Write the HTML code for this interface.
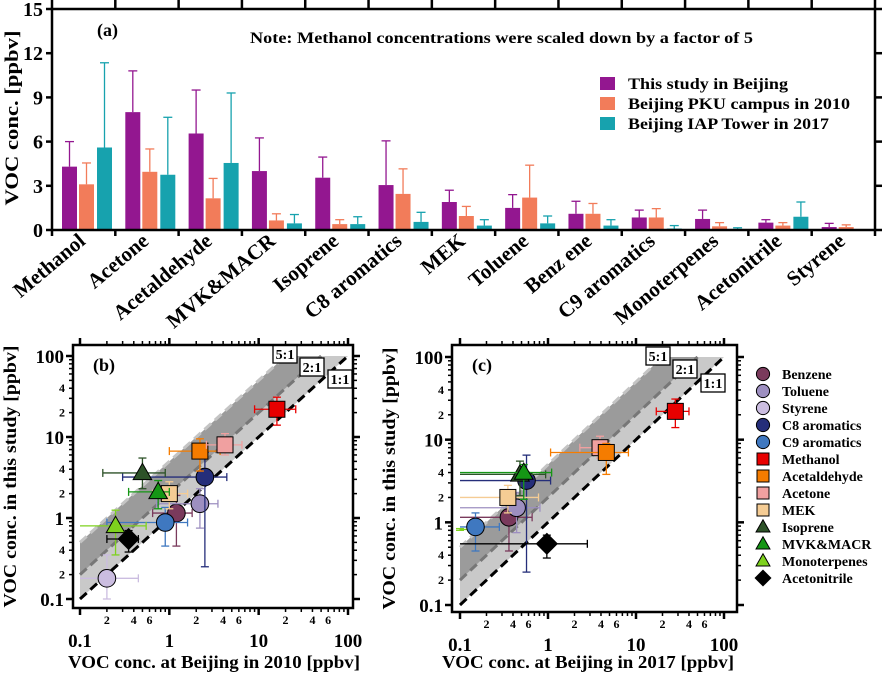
<!DOCTYPE html>
<html><head><meta charset="utf-8"><style>
html,body{margin:0;padding:0;background:#fff}
svg{display:block;font-family:"Liberation Serif",serif;font-weight:bold}
</style></head><body>
<svg id="fig" width="884" height="674" viewBox="0 0 884 674" xmlns="http://www.w3.org/2000/svg">
<g id="pa"></g>
<g id="pb"></g>
<g id="pc"></g>
<g id="leg"></g>
</svg>
<script>
const categories=["Methanol","Acetone","Acetaldehyde","MVK&MACR","Isoprene","C8 aromatics","MEK","Toluene","Benz ene","C9 aromatics","Monoterpenes","Acetonitrile","Styrene"];
const thisStudy=[4.3,8.0,6.55,4.0,3.55,3.05,1.9,1.5,1.1,0.85,0.75,0.5,0.2];
const thisStudyErr=[6.0,10.8,9.5,6.25,4.95,6.05,2.7,2.4,1.95,1.35,1.35,0.7,0.45];
const pku2010=[3.1,3.95,2.15,0.65,0.4,2.45,0.95,2.2,1.1,0.85,0.25,0.3,0.2];
const pku2010Err=[4.55,5.5,3.5,1.1,0.7,4.15,1.6,4.4,1.8,1.45,0.5,0.5,0.35];
const iap2017=[5.6,3.75,4.55,0.45,0.4,0.55,0.3,0.45,0.3,0.1,0.05,0.9,0];
const iap2017Err=[11.35,7.65,9.3,1.05,0.9,1.2,0.7,0.95,0.7,0.3,0.15,1.9,0];
const yTicksA=[0,3,6,9,12,15];

const species=["Benzene","Toluene","Styrene","C8 aromatics","C9 aromatics","Methanol","Acetaldehyde","Acetone","MEK","Isoprene","MVK&MACR","Monoterpenes","Acetonitrile"];
const studyY=[1.15,1.5,0.18,3.2,0.88,22,6.7,8,2.0,3.6,2.1,0.8,0.55];
const studyYlo=[0.45,0.75,0.1,0.25,0.45,14,3.8,6,1.3,2.3,1.3,0.35,0.38];
const studyYhi=[1.9,2.3,0.35,6.5,1.35,31,9.5,11,2.8,5.5,2.9,1.25,0.7];
const x2010=[1.2,2.2,0.2,2.5,0.9,16,2.2,4.2,1.0,0.5,0.75,0.25,0.35];
const x2010lo=[0.65,0.72,0.1,0.3,0.2,9,1.0,2.6,0.65,0.18,0.35,0.1,0.2];
const x2010hi=[1.8,3.5,0.45,4.4,1.6,26,3.7,6.5,1.6,0.9,1.0,0.55,0.45];
const c_species=["Monoterpenes","Benzene","Toluene","C8 aromatics","C9 aromatics","Methanol","Acetone","Acetaldehyde","MEK","Isoprene","MVK&MACR","Acetonitrile"];
const c_y=[0.82,1.15,1.5,3.2,0.88,22,8,7,2.0,3.8,4.0,0.55];
const c_ylo=[0.8,0.45,0.75,0.25,0.45,14,6,3.8,1.3,2.1,1.9,0.37];
const c_yhi=[0.84,1.85,2.3,6.5,1.3,31,11,9,2.8,5.5,5.0,0.7];
const x2017=[0.06,0.36,0.44,0.57,0.15,28,3.9,4.6,0.35,0.48,0.53,0.97];
const x2017lo=[0.1,0.1,0.1,0.1,0.1,17,2.3,1.07,0.1,0.1,0.1,0.1];
const x2017hi=[0.15,0.66,0.81,1.07,0.28,40,5.3,8.2,0.78,0.94,1.1,2.8];

const NS="http://www.w3.org/2000/svg";
function mk(tag,attrs,parent,text){const e=document.createElementNS(NS,tag);for(const k in attrs)e.setAttribute(k,attrs[k]);if(text!==undefined)e.textContent=text;parent.appendChild(e);return e;}

// ---------- Panel a ----------
const pa=document.getElementById('pa');
const aL=52,aR=875,aT=9,aB=230,cw=(aR-aL)/13;
const ya=v=>aB-(v/15)*(aB-aT);
const seriesVals=[thisStudy,pku2010,iap2017],seriesErr=[thisStudyErr,pku2010Err,iap2017Err];
const seriesCol=["#931790","#f27c5a","#17a2ae"],seriesOff=[10,27,45],seriesName=["this-study","pku-2010","iap-2017"];
for(let i=0;i<13;i++){
  for(let s=0;s<3;s++){
    const v=seriesVals[s][i],e=seriesErr[s][i],x=aL+i*cw+seriesOff[s];
    if(v<=0)continue;
    const er=mk('line',{x1:x+7.5,x2:x+7.5,y1:ya(v),y2:ya(e),stroke:seriesCol[s],'stroke-width':1.3},pa);
    
    
    const cap=mk('line',{x1:x+3,x2:x+12,y1:ya(e),y2:ya(e),stroke:seriesCol[s],'stroke-width':1.3},pa);
    
    
    const r=mk('rect',{x:x,y:ya(v),width:15,height:aB-ya(v),fill:seriesCol[s]},pa);
    
    
  }
  const cx=aL+i*cw+cw/2;
  const t=mk('text',{x:cx+3,y:243,'text-anchor':'end','font-size':21,transform:`rotate(-40 ${cx+3} 243)`},pa,categories[i]);
  
  
}
mk('rect',{x:aL,y:aT,width:aR-aL,height:aB-aT,fill:'none',stroke:'#000','stroke-width':2.5},pa);
for(let i=0;i<=13;i++){const x=aL+i*cw;mk('line',{x1:x,x2:x,y1:0,y2:aT,stroke:'#000','stroke-width':2.5},pa);mk('line',{x1:x,x2:x,y1:aB,y2:aB+6,stroke:'#000','stroke-width':2.5},pa);}
yTicksA.forEach(v=>{mk('line',{x1:aL-6,x2:aL,y1:ya(v),y2:ya(v),stroke:'#000','stroke-width':2.5},pa);mk('line',{x1:aR,x2:aR+7,y1:ya(v),y2:ya(v),stroke:'#000','stroke-width':2.5},pa);
 const t=mk('text',{x:43,y:ya(v)+7,'text-anchor':'end','font-size':20},pa,String(v));});
mk('text',{x:18,y:118,'text-anchor':'middle','font-size':19,textLength:175,lengthAdjust:'spacingAndGlyphs',transform:'rotate(-90 18 118)',},pa,'VOC conc. [ppbv]');
mk('text',{x:97,y:36,'font-size':18,},pa,'(a)');
mk('text',{x:250,y:43,'font-size':16,textLength:503,lengthAdjust:'spacingAndGlyphs',},pa,'Note: Methanol concentrations were scaled down by a factor of 5');
const legLen=[160,222,201];
["This study in Beijing","Beijing PKU campus in 2010","Beijing IAP Tower in 2017"].forEach((n,i)=>{
  mk('rect',{x:600,y:77+i*20,width:15,height:13,fill:seriesCol[i],},pa);
  mk('text',{x:628,y:89+i*20,'font-size':16,textLength:legLen[i],lengthAdjust:'spacingAndGlyphs',},pa,n);
});

// ---------- Scatter panels ----------
const styles={
 "Benzene":["circle","#7a3a5c"],"Toluene":["circle","#9d8fc0"],"Styrene":["circle","#cbbde0"],"C8 aromatics":["circle","#252e7a"],
 "C9 aromatics":["circle","#3f78c0"],"Methanol":["square","#e80000"],"Acetaldehyde":["square","#f57c00"],"Acetone":["square","#f0a0a0"],
 "MEK":["square","#f5cc94"],"Isoprene":["tri","#2d5228"],"MVK&MACR":["tri","#159615"],"Monoterpenes":["tri","#7ed21e"],"Acetonitrile":["diamond","#000000"]};
function marker(g,type,col,x,y,s){
  let e;
  if(type==="circle")e=mk('circle',{cx:x,cy:y,r:s*0.55,fill:col,stroke:'#000','stroke-width':1},g);
  else if(type==="square")e=mk('rect',{x:x-s/2,y:y-s/2,width:s,height:s,fill:col,stroke:'#000','stroke-width':1},g);
  else if(type==="tri")e=mk('polygon',{points:`${x},${y-s*0.6} ${x-s*0.58},${y+s*0.42} ${x+s*0.58},${y+s*0.42}`,fill:col,stroke:'#000','stroke-width':1},g);
  else e=mk('polygon',{points:`${x},${y-s*0.65} ${x+s*0.65},${y} ${x},${y+s*0.65} ${x-s*0.65},${y}`,fill:col,stroke:'#000','stroke-width':1},g);
  return e;
}
function scatter(g,cfg,names,xs,xlo,xhi,ys,ylo,yhi){
  const {L,R,T,B,x0,x1,y0,y1,label,xtitle,ytx,boxes,xtc}=cfg;
  const X=v=>x0+Math.log10(v/0.1)/3*(x1-x0), Y=v=>y0+Math.log10(v/0.1)/3*(y1-y0);
  mk('polygon',{points:`${X(0.1)},${Y(0.1)} ${X(100)},${Y(100)} ${X(50)},${Y(100)} ${X(0.1)},${Y(0.2)}`,fill:'#c9c9c9',},g);
  mk('polygon',{points:`${X(0.1)},${Y(0.2)} ${X(50)},${Y(100)} ${X(20)},${Y(100)} ${X(0.1)},${Y(0.5)}`,fill:'#9b9b9b',},g);
  mk('line',{x1:X(0.1),y1:Y(0.5),x2:X(20),y2:Y(100),stroke:'#c4c4c4','stroke-width':3,'stroke-dasharray':'9,5',},g);
  mk('line',{x1:X(0.1),y1:Y(0.2),x2:X(50),y2:Y(100),stroke:'#777','stroke-width':3,'stroke-dasharray':'9,5',},g);
  mk('line',{x1:X(0.1),y1:Y(0.1),x2:X(100),y2:Y(100),stroke:'#000','stroke-width':3,'stroke-dasharray':'9,5',},g);
  boxes.forEach(b=>{mk('rect',{x:b[1],y:b[2],width:24,height:18,fill:'#fff',stroke:'#000','stroke-width':1.3,},g);
    mk('text',{x:b[1]+12,y:b[2]+14,'text-anchor':'middle','font-size':14},g,b[0]);});
  names.forEach((n,i)=>{
    const [type,col]=styles[n];const px=X(Math.max(xs[i],0.1)),py=Y(ys[i]);
    const eg=mk('g',{},g);
    
    
    const xa=X(xlo[i]),xb=X(xhi[i]),yc=Y(ylo[i]),yd=Y(yhi[i]);
    mk('line',{x1:xa,x2:xb,y1:py,y2:py,stroke:col,'stroke-width':1.3},eg);
    mk('line',{x1:px,x2:px,y1:yc,y2:yd,stroke:col,'stroke-width':1.3},eg);
    if(xlo[i]>0.1)mk('line',{x1:xa,x2:xa,y1:py-4,y2:py+4,stroke:col,'stroke-width':1.3},eg);
    mk('line',{x1:xb,x2:xb,y1:py-4,y2:py+4,stroke:col,'stroke-width':1.3},eg);
    mk('line',{x1:px-4,x2:px+4,y1:yc,y2:yc,stroke:col,'stroke-width':1.3},eg);
    mk('line',{x1:px-4,x2:px+4,y1:yd,y2:yd,stroke:col,'stroke-width':1.3},eg);
    if(xs[i]>=0.1){const m=marker(g,type,col,px,py,16);
      
      }
  });
  mk('rect',{x:L,y:T,width:R-L,height:B-T,fill:'none',stroke:'#000','stroke-width':2.5,},g);
  for(let d=0;d<3;d++)for(let m=1;m<=10;m++){
    const v=0.1*Math.pow(10,d)*m; if(m===10&&d<2)continue;
    const major=(m===1||m===10),len=major?7:4,lw=major?2.5:1.5;
    const xx=X(v),yy=Y(v);
    mk('line',{x1:xx,x2:xx,y1:T-len,y2:T,stroke:'#000','stroke-width':lw},g);
    mk('line',{x1:xx,x2:xx,y1:B,y2:B+len,stroke:'#000','stroke-width':lw},g);
    mk('line',{x1:L-len,x2:L,y1:yy,y2:yy,stroke:'#000','stroke-width':lw},g);
    mk('line',{x1:R,x2:R+len,y1:yy,y2:yy,stroke:'#000','stroke-width':lw},g);
    if(m===2||m===4||m===6){mk('text',{x:xx,y:B+16,'text-anchor':'middle','font-size':12},g,String(m));}
    if(m===2||m===4){mk('text',{x:L-8,y:yy+4,'text-anchor':'end','font-size':12},g,String(m));}
  }
  [0.1,1,10,100].forEach(v=>{
    const t1=mk('text',{x:X(v),y:B+39,'text-anchor':'middle','font-size':19},g,String(v));
    
    const t2=mk('text',{x:L-9,y:Y(v)+7,'text-anchor':'end','font-size':19},g,String(v));
    
  });
  mk('text',{x:L+20,y:T+26,'font-size':18,},g,label);
  mk('text',{x:xtc,y:668,'text-anchor':'middle','font-size':18,textLength:292,lengthAdjust:'spacingAndGlyphs',},g,xtitle);
  mk('text',{x:ytx,y:(T+B)/2,'text-anchor':'middle','font-size':18,textLength:262,lengthAdjust:'spacingAndGlyphs',transform:`rotate(-90 ${ytx} ${(T+B)/2})`,},g,'VOC conc. in this study [ppbv]');
}
scatter(document.getElementById('pb'),{L:73,R:353,T:345,B:608,x0:80,x1:348,y0:599,y1:356,label:'(b)',xtitle:'VOC conc. at Beijing in 2010 [ppbv]',ytx:16,xtc:214,
  boxes:[["5:1",273,345],["2:1",300,358],["1:1",328,370]]},species,x2010,x2010lo,x2010hi,studyY,studyYlo,studyYhi);
scatter(document.getElementById('pc'),{L:452,R:737,T:345,B:612,x0:460,x1:724,y0:605,y1:357,label:'(c)',xtitle:'VOC conc. at Beijing in 2017 [ppbv]',ytx:395,xtc:588,
  boxes:[["5:1",646,347],["2:1",673,360],["1:1",701,374]]},c_species,x2017,x2017lo,x2017hi,c_y,c_ylo,c_yhi);

// legend
const leg=document.getElementById('leg');
species.forEach((n,i)=>{
  const y=374+i*17;const [type,col]=styles[n];
  const m=marker(leg,type,col,763,y,12);
  
  
  const t=mk('text',{x:782,y:y+5,'font-size':14},leg,n);
  
  
});
</script>
</body></html>
